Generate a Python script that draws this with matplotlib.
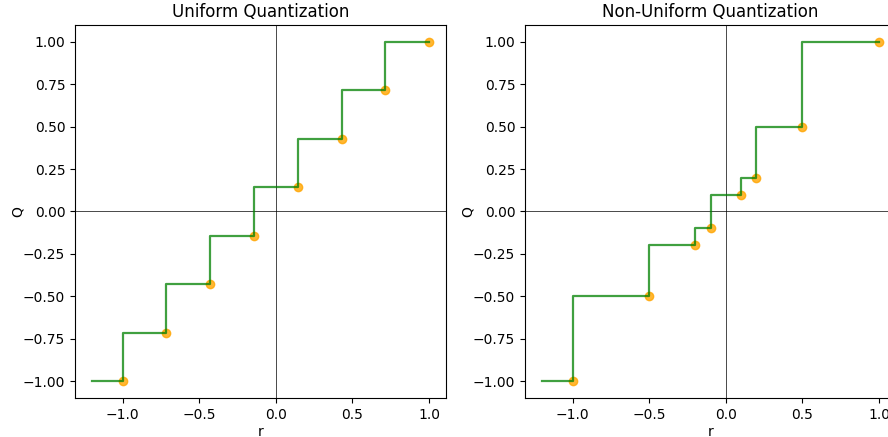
import numpy as np
import matplotlib
matplotlib.use("Agg")
import matplotlib.pyplot as plt

# quantization levels
uniform_levels = [-1.0, -5/7, -3/7, -1/7, 1/7, 3/7, 5/7, 1.0]
nonuniform_levels = [-1.0, -0.5, -0.2, -0.1, 0.1, 0.2, 0.5, 1.0]
r_start = -1.2

titles = ["Uniform Quantization", "Non-Uniform Quantization"]

fig = plt.figure(figsize=(8.88, 4.37), dpi=100)
W, H = 888, 437
ax1 = fig.add_axes([75/W, (H-398)/H, 371/W, 373/H])
ax2 = fig.add_axes([525/W, (H-398)/H, 371/W, 373/H])

for ax, levels, title in zip([ax1, ax2], [uniform_levels, nonuniform_levels], titles):
    x = [r_start] + levels
    y = [levels[0]] + levels
    ax.scatter(levels, levels, color="orange", alpha=0.8, zorder=2)
    ax.step(x, y, where="pre", color="green", alpha=0.75, linewidth=1.6, zorder=3)
    ax.axhline(0, color="black", linewidth=0.5)
    ax.axvline(0, color="black", linewidth=0.5)
    ax.set_title(title)
    ax.set_xlabel("r", labelpad=2)
    ax.set_ylabel("Q", labelpad=-1)

plt.savefig("out.png", dpi=100)
